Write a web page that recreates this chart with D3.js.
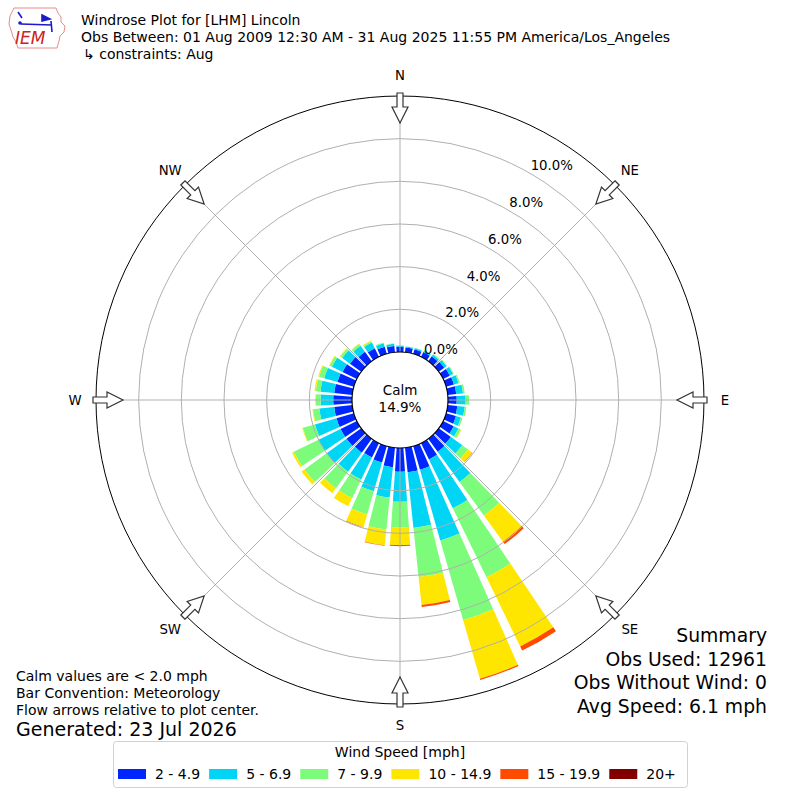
<!DOCTYPE html>
<html>
<head>
<meta charset="utf-8">
<script src="https://cdn.jsdelivr.net/npm/d3@7"></script>
<style>
  body { margin: 0; background: #fff; }
  text { font-family: "DejaVu Sans", sans-serif; fill: #000; }
</style>
</head>
<body>
<div id="chart"></div>
<script>
const directions = [0, 10, 20, 30, 40, 50, 60, 70, 80, 90, 100, 110, 120, 130, 140, 150, 160, 170,
                    180, 190, 200, 210, 220, 230, 240, 250, 260, 270, 280, 290, 300, 310, 320, 330, 340, 350];
const speedBins = ["2 - 4.9", "5 - 6.9", "7 - 9.9", "10 - 14.9", "15 - 19.9", "20+"];
const binColors = ["#0026ff", "#00d5f5", "#7dfc7b", "#ffe600", "#ff4a00", "#800000"];

const s2to5 = [0.25, 0.22, 0.22, 0.25, 0.28, 0.32, 0.35, 0.38, 0.40, 0.41, 0.45, 0.48, 0.55, 0.70, 0.75, 0.85, 1.15, 1.16,
               1.11, 0.92, 0.80, 0.75, 0.80, 0.85, 0.85, 0.85, 0.85, 0.88, 0.85, 0.80, 0.75, 0.65, 0.55, 0.45, 0.35, 0.30];
const s5to7 = [0.05, 0.05, 0.06, 0.07, 0.10, 0.13, 0.17, 0.22, 0.32, 0.42, 0.35, 0.24, 0.25, 0.66, 1.75, 2.55, 3.45, 2.62,
               1.41, 1.43, 1.40, 1.15, 1.10, 1.15, 1.15, 1.05, 0.70, 0.59, 0.65, 0.65, 0.55, 0.45, 0.35, 0.30, 0.17, 0.10];
const s7to10 = [0.01, 0.01, 0.02, 0.02, 0.04, 0.03, 0.04, 0.06, 0.08, 0.16, 0.08, 0.08, 0.12, 0.33, 1.94, 3.60, 3.89, 2.31,
                1.20, 1.50, 1.13, 0.96, 0.96, 1.29, 1.29, 0.59, 0.30, 0.22, 0.22, 0.25, 0.12, 0.10, 0.10, 0.07, 0.04, 0.02];
const s10to15 = [0, 0, 0, 0, 0, 0, 0, 0, 0, 0, 0, 0, 0.03, 0.24, 1.52, 3.60, 2.85, 1.32,
                 0.83, 0.75, 0.62, 0.43, 0.29, 0.17, 0.09, 0.03, 0.03, 0.03, 0.06, 0.04, 0.03, 0.04, 0.03, 0.03, 0, 0];
const s15to20 = [0, 0, 0, 0, 0, 0, 0, 0, 0, 0, 0, 0, 0, 0.02, 0.14, 0.22, 0.06, 0.10,
                 0.05, 0.02, 0.02, 0, 0, 0, 0, 0, 0, 0, 0, 0, 0, 0, 0, 0, 0, 0];
const s20up = [0, 0, 0, 0, 0, 0, 0, 0, 0, 0, 0, 0, 0, 0, 0, 0, 0, 0,
               0, 0, 0, 0, 0, 0, 0, 0, 0, 0, 0, 0, 0, 0, 0, 0, 0, 0];

const rTicks = [0, 2, 4, 6, 8, 10];
const compassNames = ["N", "NE", "E", "SE", "S", "SW", "W", "NW"];
const compassAngles = [0, 45, 90, 135, 180, 225, 270, 315];
const calmPct = 14.9;

const headerLines = ["Windrose Plot for [LHM] Lincoln",
                     "Obs Between: 01 Aug 2009 12:30 AM - 31 Aug 2025 11:55 PM America/Los_Angeles",
                     "\u21b3 constraints: Aug"];
const noteLines = ["Calm values are < 2.0 mph", "Bar Convention: Meteorology", "Flow arrows relative to plot center."];
const generatedText = "Generated: 23 Jul 2026";
const summaryLines = ["Summary", "Obs Used: 12961", "Obs Without Wind: 0", "Avg Speed: 6.1 mph"];

const width = 800, height = 800;
const cx = 400, cy = 400;

const svg = d3.select("#chart")
  .append("svg")
  .attr("width", width)
  .attr("height", height)
  .attr("viewBox", [0, 0, width, height]);

// radial scale: 0% sits on the calm circle
const rScale = d3.scaleLinear().domain([0, 12]).range([48, 304]);
const aScale = d3.scaleLinear().domain([0, 360]).range([0, 2 * Math.PI]);
const halfWidth = 4; // degrees

const polar = svg.append("g").attr("transform", `translate(${cx},${cy})`);

// outer frame
polar.append("circle")
  .attr("r", rScale(12))
  .attr("fill", "#fff")
  .attr("stroke", "#000")
  .attr("stroke-width", 1);

// stack the speed bins per direction
const series = [s2to5, s5to7, s7to10, s10to15, s15to20, s20up];
const segments = [];
directions.forEach((dir, i) => {
  let lo = 0;
  series.forEach((s, k) => {
    const v = s[i];
    if (v > 0) segments.push({ dir: dir, lo: lo, hi: lo + v, bin: k });
    lo += v;
  });
});

const arc = d3.arc()
  .innerRadius(d => rScale(d.lo))
  .outerRadius(d => rScale(d.hi))
  .startAngle(d => aScale(d.dir - halfWidth))
  .endAngle(d => aScale(d.dir + halfWidth));

polar.selectAll(".bar")
  .data(segments)
  .enter()
  .append("path")
    .attr("class", "bar")
    .attr("d", arc)
    .attr("fill", d => binColors[d.bin]);

// grid rings and spokes, drawn over the bars
polar.selectAll(".ring")
  .data(rTicks.slice(1))
  .enter()
  .append("circle")
    .attr("class", "ring")
    .attr("r", d => rScale(d))
    .attr("fill", "none")
    .attr("stroke", "#b0b0b0")
    .attr("stroke-width", 1);

polar.selectAll(".spoke")
  .data(compassAngles)
  .enter()
  .append("line")
    .attr("class", "spoke")
    .attr("x1", d => rScale(0) * Math.sin(aScale(d)))
    .attr("y1", d => -rScale(0) * Math.cos(aScale(d)))
    .attr("x2", d => rScale(12) * Math.sin(aScale(d)))
    .attr("y2", d => -rScale(12) * Math.cos(aScale(d)))
    .attr("stroke", "#b0b0b0")
    .attr("stroke-width", 1);

// calm circle
polar.append("circle")
  .attr("r", rScale(0))
  .attr("fill", "#fff")
  .attr("stroke", "#000")
  .attr("stroke-width", 1.2);

polar.append("text")
  .attr("text-anchor", "middle")
  .attr("y", -5)
  .attr("font-size", "13.5px")
  .text("Calm");
polar.append("text")
  .attr("text-anchor", "middle")
  .attr("y", 12)
  .attr("font-size", "13.5px")
  .text(calmPct.toFixed(1) + "%");

// ring labels along the 30 degree line
const labelAngle = aScale(30);
polar.selectAll(".rlabel")
  .data(rTicks)
  .enter()
  .append("text")
    .attr("class", "rlabel")
    .attr("x", d => rScale(d) * Math.sin(labelAngle))
    .attr("y", d => -rScale(d) * Math.cos(labelAngle) - 4)
    .attr("font-size", "13.3px")
    .text(d => d.toFixed(1) + "%");

// hollow flow arrows pointing to the centre
const arrowPath = "M-3,-307 L3,-307 L3,-293 L8,-293 L0,-277 L-8,-293 L-3,-293 Z";
polar.selectAll(".arrow")
  .data(compassAngles)
  .enter()
  .append("path")
    .attr("class", "arrow")
    .attr("d", arrowPath)
    .attr("transform", d => `rotate(${d})`)
    .attr("fill", "#fff")
    .attr("stroke", "#333")
    .attr("stroke-width", 1.2);

// compass labels
polar.selectAll(".clabel")
  .data(compassAngles)
  .enter()
  .append("text")
    .attr("class", "clabel")
    .attr("x", d => 325 * Math.sin(aScale(d)))
    .attr("y", d => -325 * Math.cos(aScale(d)))
    .attr("text-anchor", "middle")
    .attr("dominant-baseline", "central")
    .attr("font-size", "13.3px")
    .text((d, i) => compassNames[i]);

// header
svg.selectAll(".header")
  .data(headerLines)
  .enter()
  .append("text")
    .attr("class", "header")
    .attr("x", (d, i) => i == 2 ? 83 : 81)
    .attr("y", (d, i) => 25 + i * 17)
    .attr("font-size", "14px")
    .text(d => d);

// IEM logo (rough)
const logo = svg.append("g");
logo.append("path")
  .attr("d", "M14,8 L56,8 L58,13 L61,17 L61,22 L65,26 L64,32 L60,36 L59,41 L57,48 L18,48 L16,42 L13,37 L11,30 L9,24 L10,16 Z")
  .attr("fill", "none")
  .attr("stroke", "#e88a8a")
  .attr("stroke-width", 1);
logo.append("path")
  .attr("d", "M18,12 L22,18 M21,24 L52,25 M42,15 L50,19 L42,21 Z M51,21 L52,32")
  .attr("fill", "#1a1acc")
  .attr("stroke", "#1a1acc")
  .attr("stroke-width", 1.6);
logo.append("circle").attr("cx", 20).attr("cy", 23).attr("r", 1.8).attr("fill", "#1a1acc");
logo.append("text")
  .attr("x", 15)
  .attr("y", 44)
  .attr("font-family", "Liberation Serif, serif")
  .attr("font-style", "italic")
  .attr("font-size", "17px")
  .style("fill", "#cc2222")
  .text("IEM");

// notes bottom left
svg.selectAll(".note")
  .data(noteLines)
  .enter()
  .append("text")
    .attr("class", "note")
    .attr("x", 16)
    .attr("y", (d, i) => 681 + i * 17)
    .attr("font-size", "14px")
    .text(d => d);
svg.append("text")
  .attr("x", 16)
  .attr("y", 736)
  .attr("font-size", "19px")
  .text(generatedText);

// summary bottom right
svg.selectAll(".summary")
  .data(summaryLines)
  .enter()
  .append("text")
    .attr("class", "summary")
    .attr("x", 767)
    .attr("y", (d, i) => 642 + i * 23.5)
    .attr("text-anchor", "end")
    .attr("font-size", "18.8px")
    .text(d => d);

// legend
const legend = svg.append("g");
legend.append("rect")
  .attr("x", 113.5)
  .attr("y", 741.5)
  .attr("width", 574)
  .attr("height", 46)
  .attr("rx", 3)
  .attr("fill", "#fff")
  .attr("stroke", "#d0d0d0")
  .attr("stroke-width", 1);
legend.append("text")
  .attr("x", 400)
  .attr("y", 757)
  .attr("text-anchor", "middle")
  .attr("font-size", "14px")
  .text("Wind Speed [mph]");

let lx = 118;
speedBins.forEach((label, k) => {
  legend.append("rect")
    .attr("x", lx)
    .attr("y", 769)
    .attr("width", 28)
    .attr("height", 10)
    .attr("fill", binColors[k]);
  const t = legend.append("text")
    .attr("x", lx + 37)
    .attr("y", 779)
    .attr("font-size", "14px")
    .text(label);
  lx = lx + 37 + t.node().getComputedTextLength() + 9;
});
</script>
</body>
</html>
